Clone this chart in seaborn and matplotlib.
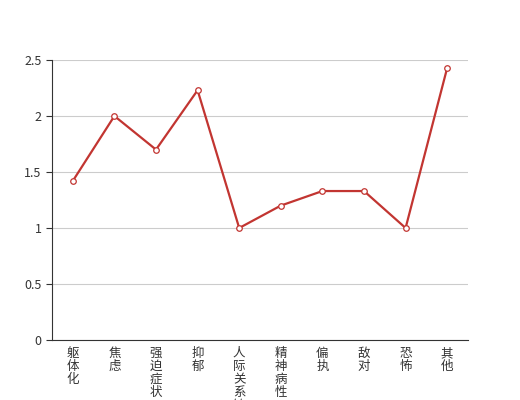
import numpy as np
import pandas as pd
import matplotlib
matplotlib.use("Agg")
import matplotlib.pyplot as plt
import seaborn as sns

# SCL-90 factor scores
categories = ["躯体化", "焦虑", "强迫症状", "抑郁", "人际关系敏感",
              "精神病性", "偏执", "敌对", "恐怖", "其他"]
scores = [1.42, 2.0, 1.7, 2.23, 1.0, 1.2, 1.33, 1.33, 1.0, 2.43]
y_ticks = [0, 0.5, 1, 1.5, 2, 2.5]
y_tick_labels = ["0", "0.5", "1", "1.5", "2", "2.5"]

sns.set_theme(style="white")
plt.rcParams["font.family"] = ["Noto Sans CJK SC", "DejaVu Sans"]

df = pd.DataFrame({"factor": categories, "score": scores})

fig = plt.figure(figsize=(5.2, 4.0), dpi=100)
ax = fig.add_axes([0.1, 0.15, 0.8, 0.7])

sns.lineplot(data=df, x="factor", y="score", ax=ax, color="#c23531",
             linewidth=1.6, marker="o", markersize=4,
             markerfacecolor="white", markeredgecolor="#c23531",
             markeredgewidth=0.9, sort=False, zorder=3)

ax.set_xlim(-0.5, len(categories) - 0.5)
ax.set_ylim(0, 2.5)
ax.set_yticks(y_ticks)
ax.set_yticklabels(y_tick_labels)
ax.set_xticks(range(len(categories)))
ax.set_xticklabels(["\n".join(c) for c in categories], linespacing=1.0)
ax.set_xticks(np.arange(-0.5, len(categories)), minor=True)

ax.grid(axis="y", color="#cccccc", linewidth=0.8)
ax.set_axisbelow(True)
for side in ["top", "right"]:
    ax.spines[side].set_visible(False)
for side in ["left", "bottom"]:
    ax.spines[side].set_color("#333333")
    ax.spines[side].set_linewidth(0.8)

ax.tick_params(axis="x", which="major", length=0, pad=5,
               labelsize=9, labelcolor="#333333")
ax.tick_params(axis="x", which="minor", length=4, width=0.8,
               color="#333333", direction="out")
ax.tick_params(axis="y", length=4, width=0.8, color="#333333",
               direction="out", left=True, labelsize=9, labelcolor="#333333")
ax.set_xlabel("")
ax.set_ylabel("")

fig.savefig("out.png", dpi=100)
